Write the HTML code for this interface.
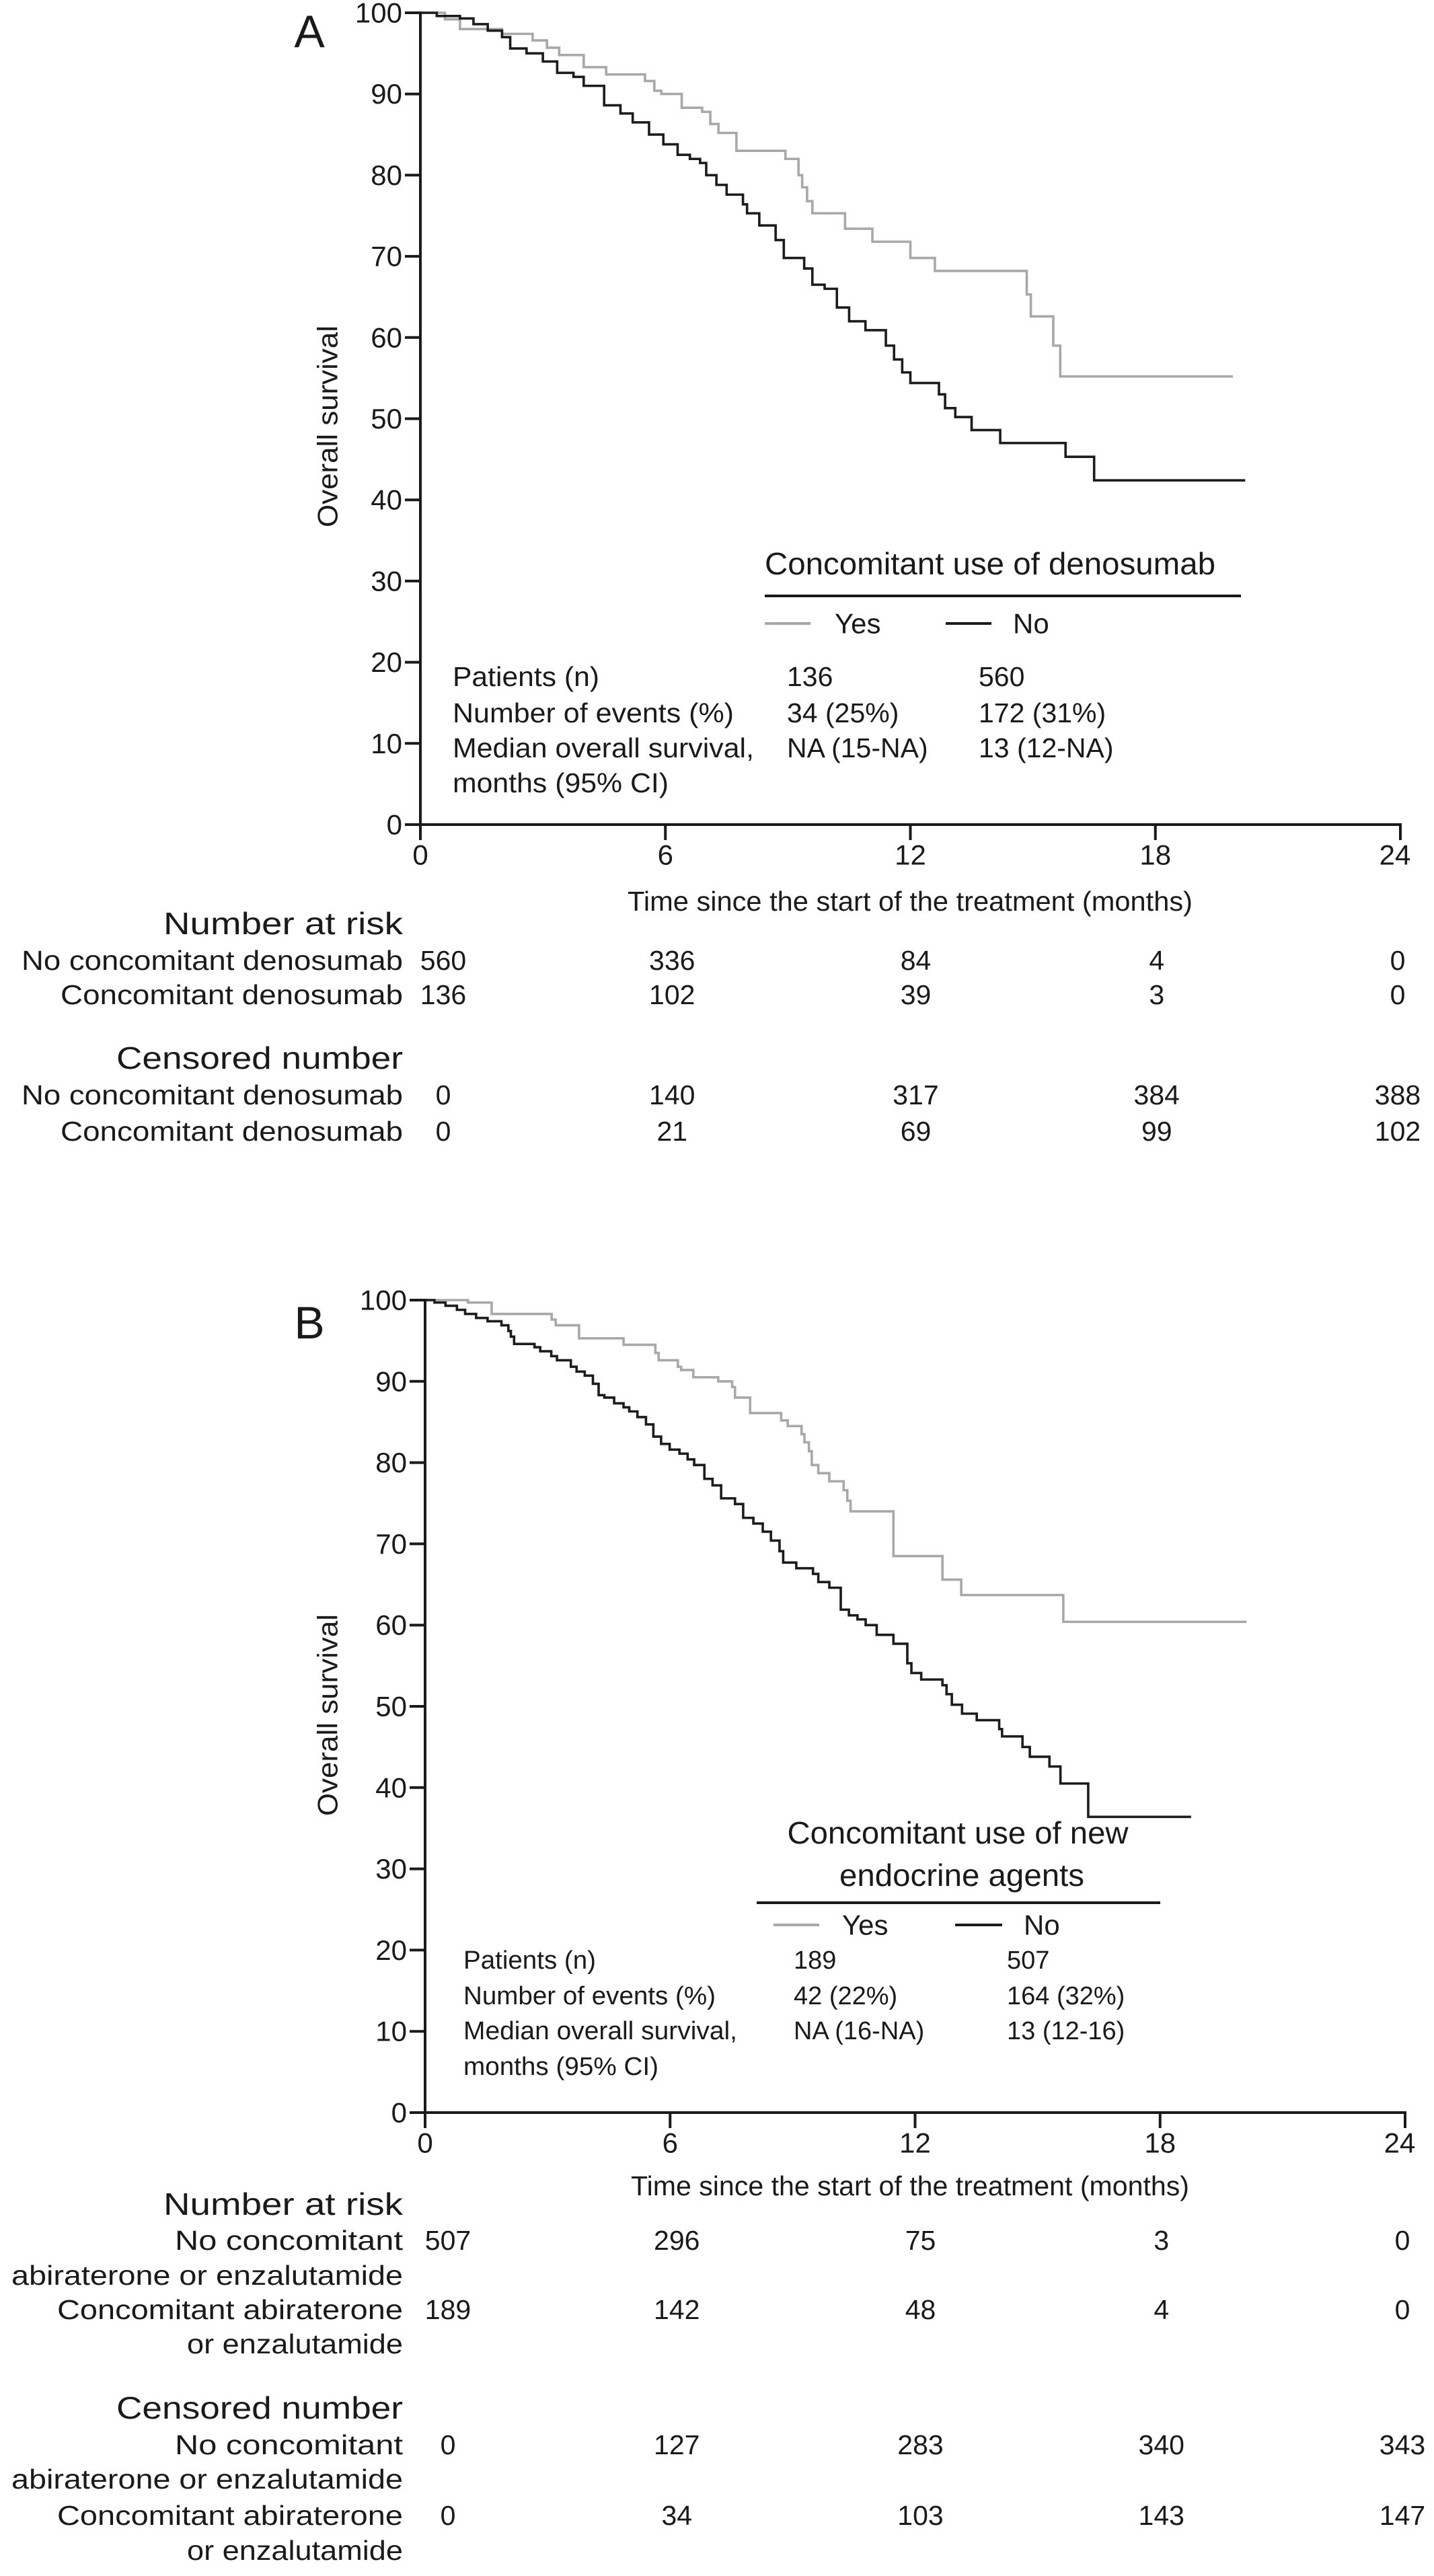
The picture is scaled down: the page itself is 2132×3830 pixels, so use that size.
<!DOCTYPE html>
<html><head><meta charset="utf-8"><style>
html,body{margin:0;padding:0;background:#fff;}
svg{display:block;font-family:"Liberation Sans",Arial,sans-serif;}
</style></head><body>
<svg id="chart" width="2132" height="3830" viewBox="0 0 2132 3830" xmlns="http://www.w3.org/2000/svg">
<rect width="2132" height="3830" fill="#fff"/>
<g id="root"></g>
</svg>
<script>
// ===== Data =====
const xTicks = [0, 6, 12, 18, 24];
const yTicks = [0, 10, 20, 30, 40, 50, 60, 70, 80, 90, 100];

// Panel A
const aYesTimes = [0,0.6,0.97,2.0,2.75,3.1,3.4,4.0,4.55,5.5,5.73,5.9,6.4,6.9,7.1,7.3,7.74,8.94,9.26,9.35,9.47,9.6,10.4,11.07,12.0,12.6,14.85,14.95,15.5,15.67];
const aYesSurv  = [100,99.2,98,97.4,96.6,95.7,94.8,93.3,92.4,91.6,90.4,90,88.3,87.8,86.3,85.2,83,82,80,78.5,76.8,75.3,73.4,71.8,69.8,68.2,65.3,62.6,59,55.2];
const aYesEnd = 19.9;
const aNoTimes = [0,0.4,0.97,1.3,1.65,2.0,2.2,2.6,3.0,3.35,3.75,4.0,4.5,4.9,5.2,5.6,5.95,6.3,6.6,6.85,7.0,7.25,7.5,7.9,8.0,8.3,8.7,8.9,9.4,9.6,9.9,10.2,10.5,10.9,11.4,11.6,11.8,12.0,12.7,12.85,13.1,13.5,14.2,15.8,16.5];
const aNoSurv  = [100,99.6,99.3,98.6,97.8,97,95.6,95,94,92.6,92.1,91,88.6,87.6,86.5,85,83.8,82.5,82,81.5,80,78.8,77.6,76.4,75.3,73.8,72,69.8,68.5,66.5,66,63.7,62,60.9,59,57.3,55.7,54.4,53,51.3,50.2,48.6,47,45.3,42.4];
const aNoEnd = 20.2;
const aRiskNo = ["560","336","84","4","0"];
const aRiskYes = ["136","102","39","3","0"];
const aCensNo = ["0","140","317","384","388"];
const aCensYes = ["0","21","69","99","102"];

// Panel B
const bYesTimes = [0,1.05,1.63,3.1,3.2,3.77,4.86,5.64,5.72,6.19,6.27,6.57,7.18,7.52,7.59,7.96,8.72,8.88,9.22,9.29,9.4,9.47,9.63,9.9,10.25,10.34,10.42,11.47,12.67,13.13,15.63];
const bYesSurv  = [100,99.7,98.3,97.6,96.9,95.3,94.5,93.5,92.6,91.8,91.4,90.5,90.0,89.3,88.0,86.1,85.2,84.5,83.5,82.5,81.4,79.7,78.7,77.7,76.6,75.3,74.0,68.5,65.6,63.7,60.4];
const bYesEnd = 20.12;
const bNoTimes = [0,0.23,0.5,0.78,0.98,1.25,1.53,1.87,2.04,2.1,2.18,2.68,2.82,3.09,3.23,3.57,3.71,3.91,4.11,4.25,4.39,4.63,4.86,5.0,5.2,5.41,5.59,5.78,5.99,6.23,6.43,6.59,6.84,7.04,7.25,7.59,7.79,8.04,8.27,8.47,8.68,8.77,9.09,9.5,9.63,9.9,10.18,10.38,10.59,10.79,11.06,11.47,11.81,11.91,12.15,12.67,12.77,12.9,13.15,13.51,14.06,14.13,14.63,14.81,15.29,15.56,16.24];
const bNoSurv  = [100,99.7,99.3,98.8,98.3,97.8,97.4,96.9,96.2,95.5,94.6,94.2,93.7,93.1,92.6,91.8,91.2,90.7,89.7,88.3,88.0,87.3,86.8,86.3,85.6,84.7,83.2,82.3,81.6,81.1,80.4,79.7,78.0,77.2,75.6,74.9,73.2,72.5,71.5,70.4,69.1,67.7,67.0,66.3,65.3,64.6,61.9,61.2,60.7,60.0,58.8,57.7,55.3,54.1,53.3,52.6,51.5,50.2,49.1,48.3,47.2,46.3,45.0,43.8,42.6,40.5,36.4];
const bNoEnd = 18.76;
const bRiskNo = ["507","296","75","3","0"];
const bRiskYes = ["189","142","48","4","0"];
const bCensNo = ["0","127","283","340","343"];
const bCensYes = ["0","34","103","143","147"];

// ===== Drawing =====
const NS = "http://www.w3.org/2000/svg";
const root = document.getElementById('root');
function mk(tag, attrs, parent) {
  const e = document.createElementNS(NS, tag);
  for (const k in attrs) e.setAttribute(k, attrs[k]);
  (parent || root).appendChild(e);
  return e;
}
function txt(str, x, y, size, anchor, parent, len) {
  const t = mk('text', {x: x, y: y, 'font-size': size, 'text-anchor': anchor || 'start', 'dominant-baseline': 'central', fill: '#1a1a1a'}, parent);
  if (len) { t.setAttribute('textLength', len); t.setAttribute('lengthAdjust', 'spacingAndGlyphs'); }
  t.textContent = str;
  return t;
}

function panel(cfg) {
  const g = mk('g', {});
  
  
  const xs = m => cfg.x0 + (cfg.x24 - cfg.x0) * m / 24;
  const ys = v => cfg.y0 - (cfg.y0 - cfg.y100) * v / 100;

  const L = txt(cfg.letter, 460, cfg.letterY, 68, 'middle', g);
  
  

  function curve(times, surv, end, color, nm) {
    let d = 'M' + xs(times[0]) + ',' + ys(surv[0]);
    for (let i = 1; i < times.length; i++) {
      d += ' H' + xs(times[i]) + ' V' + ys(surv[i]);
    }
    d += ' H' + xs(end);
    const p = mk('path', {d: d, fill: 'none', stroke: color, 'stroke-width': 3.6, 'stroke-linejoin': 'miter'}, g);
    
    
  }
  curve(cfg.yesT, cfg.yesS, cfg.yesEnd, '#a8a8a8', 'curve-yes');
  curve(cfg.noT, cfg.noS, cfg.noEnd, '#1c1c1c', 'curve-no');

  const ax = mk('g', {stroke: '#1a1a1a', 'stroke-width': 4, fill: 'none'}, g);
  
  
  mk('line', {x1: cfg.x0, y1: cfg.y100 - 2, x2: cfg.x0, y2: cfg.y0}, ax);
  mk('line', {x1: cfg.x0 - 2, y1: cfg.y0, x2: cfg.x24 + 2, y2: cfg.y0}, ax);
  yTicks.forEach(v => {
    mk('line', {x1: cfg.x0 - 23, y1: ys(v), x2: cfg.x0, y2: ys(v)}, ax);
    const t = txt(String(v), cfg.x0 - 27, ys(v), 42, 'end', g);
    
    
  });
  xTicks.forEach(m => {
    mk('line', {x1: xs(m), y1: cfg.y0, x2: xs(m), y2: cfg.y0 + 23}, ax);
    const t = txt(String(m), xs(m) - (m === 24 ? 8 : 0), cfg.y0 + 45, 42, 'middle', g);
    
    
  });

  const yt = mk('text', {x: 0, y: 0, 'font-size': 42, 'text-anchor': 'middle', 'dominant-baseline': 'central', fill: '#1a1a1a', transform: 'translate(487,' + cfg.yTitleY + ') rotate(-90)', textLength: 300, lengthAdjust: 'spacingAndGlyphs'}, g);
  yt.textContent = 'Overall survival';
  
  
  const xt = txt('Time since the start of the treatment (months)', cfg.xTitleX, cfg.xTitleY, 41, 'middle', g, cfg.xTitleW);
  
  

  const lg = mk('g', {}, g);
  
  
  cfg.legTitle.forEach(l => txt(l.s, l.x, l.y, 46, l.a, lg, l.w));
  mk('line', {x1: cfg.legLine[0], y1: cfg.legLine[2], x2: cfg.legLine[1], y2: cfg.legLine[2], stroke: '#1a1a1a', 'stroke-width': 4}, lg);
  const ly = cfg.legRowY;
  const e1 = mk('g', {}, lg);
  
  
  mk('line', {x1: cfg.legYes[0], y1: ly, x2: cfg.legYes[1], y2: ly, stroke: '#a8a8a8', 'stroke-width': 4}, e1);
  txt('Yes', cfg.legYes[2], ly, 42, 'start', e1);
  const e2 = mk('g', {}, lg);
  
  
  mk('line', {x1: cfg.legNo[0], y1: ly, x2: cfg.legNo[1], y2: ly, stroke: '#1c1c1c', 'stroke-width': 4}, e2);
  txt('No', cfg.legNo[2], ly, 42, 'start', e2);

  const st = mk('g', {}, g);
  
  
  cfg.stats.forEach((row, i) => {
    row.forEach((s, j) => { if (s) txt(s, cfg.statX[j], cfg.statY[i], cfg.statSize, 'start', st, (j === 0 && cfg.statW[i]) ? cfg.statW[i] : null); });
  });

  const tb = mk('g', {}, g);
  
  
  const valX = [cfg.x0 + 34, xs(6) + 10, xs(12) + 8, xs(18) + 2, xs(24) - 4];
  cfg.tableRows.forEach(r => {
    r.labels.forEach(l => txt(l.s, cfg.labelRight, l.y, r.head ? 46 : 41, 'end', tb, l.w));
    if (r.vals) r.vals.forEach((v, k) => txt(v, valX[k], r.labels[0].y, 41, 'middle', tb));
  });
}

panel({
  name: 'panel-a', letter: 'A', letterY: 47,
  x0: 625, x24: 2082, y0: 1226, y100: 19,
  yesT: aYesTimes, yesS: aYesSurv, yesEnd: aYesEnd,
  noT: aNoTimes, noS: aNoSurv, noEnd: aNoEnd,
  yTitleY: 634, xTitleX: 1353, xTitleY: 1340, xTitleW: 840,
  legTitle: [{s: 'Concomitant use of denosumab', x: 1137, y: 838, a: 'start', w: 670}],
  legLine: [1137, 1845, 886], legRowY: 927,
  legYes: [1137, 1205, 1241], legNo: [1406, 1474, 1506],
  statSize: 41, statX: [673, 1170, 1455], statY: [1006, 1060, 1112, 1164], statW: [218, 418, 448, 321],
  stats: [["Patients (n)", "136", "560"], ["Number of events (%)", "34 (25%)", "172 (31%)"], ["Median overall survival,", "NA (15-NA)", "13 (12-NA)"], ["months (95% CI)", "", ""]],
  labelRight: 599,
  tableRows: [
    {head: true, labels: [{s: 'Number at risk', y: 1373, w: 356}]},
    {labels: [{s: 'No concomitant denosumab', y: 1428, w: 567}], vals: aRiskNo},
    {labels: [{s: 'Concomitant denosumab', y: 1479, w: 509}], vals: aRiskYes},
    {head: true, labels: [{s: 'Censored number', y: 1573, w: 426}]},
    {labels: [{s: 'No concomitant denosumab', y: 1628, w: 567}], vals: aCensNo},
    {labels: [{s: 'Concomitant denosumab', y: 1682, w: 509}], vals: aCensYes}
  ]
});

panel({
  name: 'panel-b', letter: 'B', letterY: 1967,
  x0: 632, x24: 2089, y0: 3141, y100: 1933,
  yesT: bYesTimes, yesS: bYesSurv, yesEnd: bYesEnd,
  noT: bNoTimes, noS: bNoSurv, noEnd: bNoEnd,
  yTitleY: 2550, xTitleX: 1353, xTitleY: 3250, xTitleW: 830,
  legTitle: [{s: 'Concomitant use of new', x: 1424, y: 2725, a: 'middle', w: 507}, {s: 'endocrine agents', x: 1430, y: 2788, a: 'middle', w: 364}],
  legLine: [1125, 1725, 2829], legRowY: 2862,
  legYes: [1150, 1218, 1252], legNo: [1420, 1490, 1522],
  statSize: 38, statX: [689, 1180, 1497], statY: [2915, 2968, 3020, 3073], statW: [197, 375, 407, 290],
  stats: [["Patients (n)", "189", "507"], ["Number of events (%)", "42 (22%)", "164 (32%)"], ["Median overall survival,", "NA (16-NA)", "13 (12-16)"], ["months (95% CI)", "", ""]],
  labelRight: 599,
  tableRows: [
    {head: true, labels: [{s: 'Number at risk', y: 3277, w: 356}]},
    {labels: [{s: 'No concomitant', y: 3331, w: 339}, {s: 'abiraterone or enzalutamide', y: 3383, w: 582}], vals: bRiskNo},
    {labels: [{s: 'Concomitant abiraterone', y: 3434, w: 514}, {s: 'or enzalutamide', y: 3485, w: 321}], vals: bRiskYes},
    {head: true, labels: [{s: 'Censored number', y: 3580, w: 426}]},
    {labels: [{s: 'No concomitant', y: 3635, w: 339}, {s: 'abiraterone or enzalutamide', y: 3686, w: 582}], vals: bCensNo},
    {labels: [{s: 'Concomitant abiraterone', y: 3740, w: 514}, {s: 'or enzalutamide', y: 3792, w: 321}], vals: bCensYes}
  ]
});
</script>
</body></html>
